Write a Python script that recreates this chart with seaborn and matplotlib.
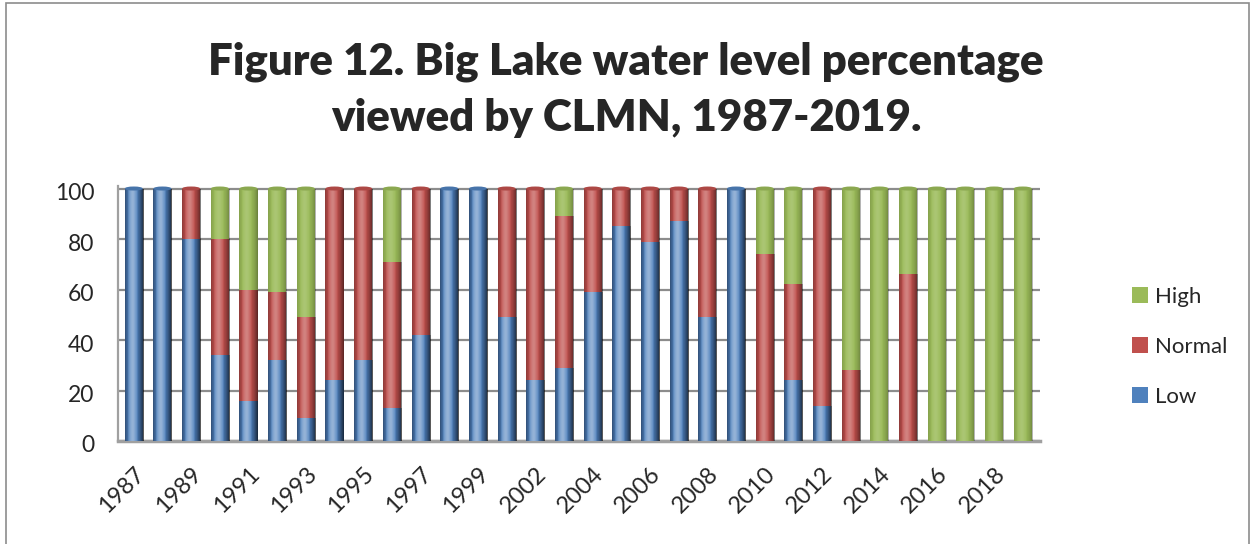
import numpy as np
import pandas as pd
import matplotlib
matplotlib.use("Agg")
import matplotlib.pyplot as plt
import matplotlib.transforms as mtransforms
from matplotlib.patches import Ellipse, Rectangle
import seaborn as sns

# percentages (2001 missing in the survey)
years = [1987, 1988, 1989, 1990, 1991, 1992, 1993, 1994, 1995, 1996, 1997, 1998,
         1999, 2000, 2002, 2003, 2004, 2005, 2006, 2007, 2008, 2009, 2010, 2011,
         2012, 2013, 2014, 2015, 2016, 2017, 2018, 2019]
low = [100, 100, 80, 34, 16, 32, 9, 24, 32, 13, 42, 100,
       100, 49, 24, 29, 59, 85, 79, 87, 49, 100, 0, 24,
       14, 0, 0, 0, 0, 0, 0, 0]
normal = [0, 0, 20, 46, 44, 27, 40, 76, 68, 58, 58, 0,
          0, 51, 76, 60, 41, 15, 21, 13, 51, 0, 74, 38,
          86, 28, 0, 66, 0, 0, 0, 0]
high = [0, 0, 0, 20, 40, 41, 51, 0, 0, 29, 0, 0,
        0, 0, 0, 11, 0, 0, 0, 0, 0, 0, 26, 38,
        0, 72, 100, 34, 100, 100, 100, 100]

c_low = "#4F81BD"
c_normal = "#C0504D"
c_high = "#9BBB59"

df = pd.DataFrame({"Year": [str(y) for y in years], "Low": low, "Normal": normal, "High": high})
df["LowNormal"] = df["Low"] + df["Normal"]
df["Total"] = df["LowNormal"] + df["High"]

sns.set_style("white")
plt.rcParams["font.family"] = ["Lato", "DejaVu Sans"]

fig = plt.figure(figsize=(12.52, 5.44), dpi=100)
ax = fig.add_axes([118 / 1252, 1 - 441 / 544, (1040 - 118) / 1252, 255 / 544])

# stacked bars: draw totals first, then overlay smaller cumulative sums
bar_kw = dict(saturation=1, width=0.63, linewidth=0, edgecolor="none", ax=ax, zorder=3)
sns.barplot(data=df, x="Year", y="Total", color=c_high, label="High", **bar_kw)
sns.barplot(data=df, x="Year", y="LowNormal", color=c_normal, label="Normal", **bar_kw)
sns.barplot(data=df, x="Year", y="Low", color=c_low, label="Low", **bar_kw)

# cylinder shading + caps
t = np.linspace(0, 1, 64)
shade = np.zeros((1, 64, 4))
light = np.exp(-((t - 0.4) / 0.2) ** 2) * 0.16
dark = (np.abs(t - 0.42) / 0.58) ** 2.5 * 0.32
shade[0, :, :3] = np.where(light > dark, 1.0, 0.0)[:, None]
shade[0, :, 3] = np.maximum(light, dark)

bar_patches = [p for p in ax.patches if p.get_height() > 0]
for p in bar_patches:
    x0, w, h = p.get_x(), p.get_width(), p.get_height()
    im = ax.imshow(shade, extent=(x0, x0 + w, 0, h), aspect="auto", zorder=3.5,
                   interpolation="bilinear")
    im.set_clip_path(p)

tops = {}
for p in bar_patches:
    xc = p.get_x() + p.get_width() / 2
    if p.get_height() >= tops.get(xc, (0, None))[0]:
        tops[xc] = (p.get_height(), p.get_facecolor(), p.get_width())
for xc, (h, fc, w) in tops.items():
    cap_col = tuple(c * 0.9 for c in fc[:3])
    ax.add_patch(Ellipse((xc, h), w, 1.6, facecolor=cap_col, edgecolor="none", zorder=4))

ax.set_xlim(-0.55, 31.6)
ax.set_ylim(0, 101)
ax.set_yticks([0, 20, 40, 60, 80, 100])
ax.yaxis.grid(True, color="#8C8C8C", linewidth=1.6, zorder=0)
ax.set_axisbelow(True)
for s in ["top", "right"]:
    ax.spines[s].set_visible(False)
ax.spines["left"].set_color("#A0A0A0")
ax.spines["left"].set_linewidth(1.6)
ax.spines["bottom"].set_color("#A0A0A0")
ax.spines["bottom"].set_linewidth(2.5)

idx = list(range(0, len(years), 2))
ax.set_xticks(idx)
ax.set_xticklabels([str(years[i]) for i in idx], rotation=45, ha="right",
                   rotation_mode="anchor", fontsize=17)
ax.tick_params(axis="x", length=0, pad=16)
ax.tick_params(axis="y", length=5, color="#A0A0A0", width=1.5, labelsize=16.5, pad=12)
# y labels sit a little below their gridlines in the original
shift = mtransforms.ScaledTranslation(0, -3 / 100, fig.dpi_scale_trans)
for lab in ax.get_yticklabels():
    lab.set_transform(lab.get_transform() + shift)
ax.set_xlabel("")
ax.set_ylabel("")

ax.legend(loc="center left", bbox_to_anchor=(1121 / 1252, 1 - 347 / 544),
          bbox_transform=fig.transFigure, frameon=False, fontsize=16,
          handlelength=0.7, handleheight=0.7, handletextpad=0.35, labelspacing=1.35,
          borderpad=0)

title_kw = dict(ha="center", va="center", fontsize=31.5, fontweight="heavy")
fig.text(0.5, 1 - 62 / 544, "Figure 12. Big Lake water level percentage", **title_kw)
fig.text(0.5, 1 - 118 / 544, "viewed by CLMN, 1987-2019.", **title_kw)

fig.patches.append(Rectangle((6 / 1252, -0.02), (1249 - 6) / 1252, 1.02 - 3 / 544,
                             transform=fig.transFigure, fill=False,
                             edgecolor="#8C8C8C", linewidth=1.2))

fig.savefig("out.png", dpi=100)
